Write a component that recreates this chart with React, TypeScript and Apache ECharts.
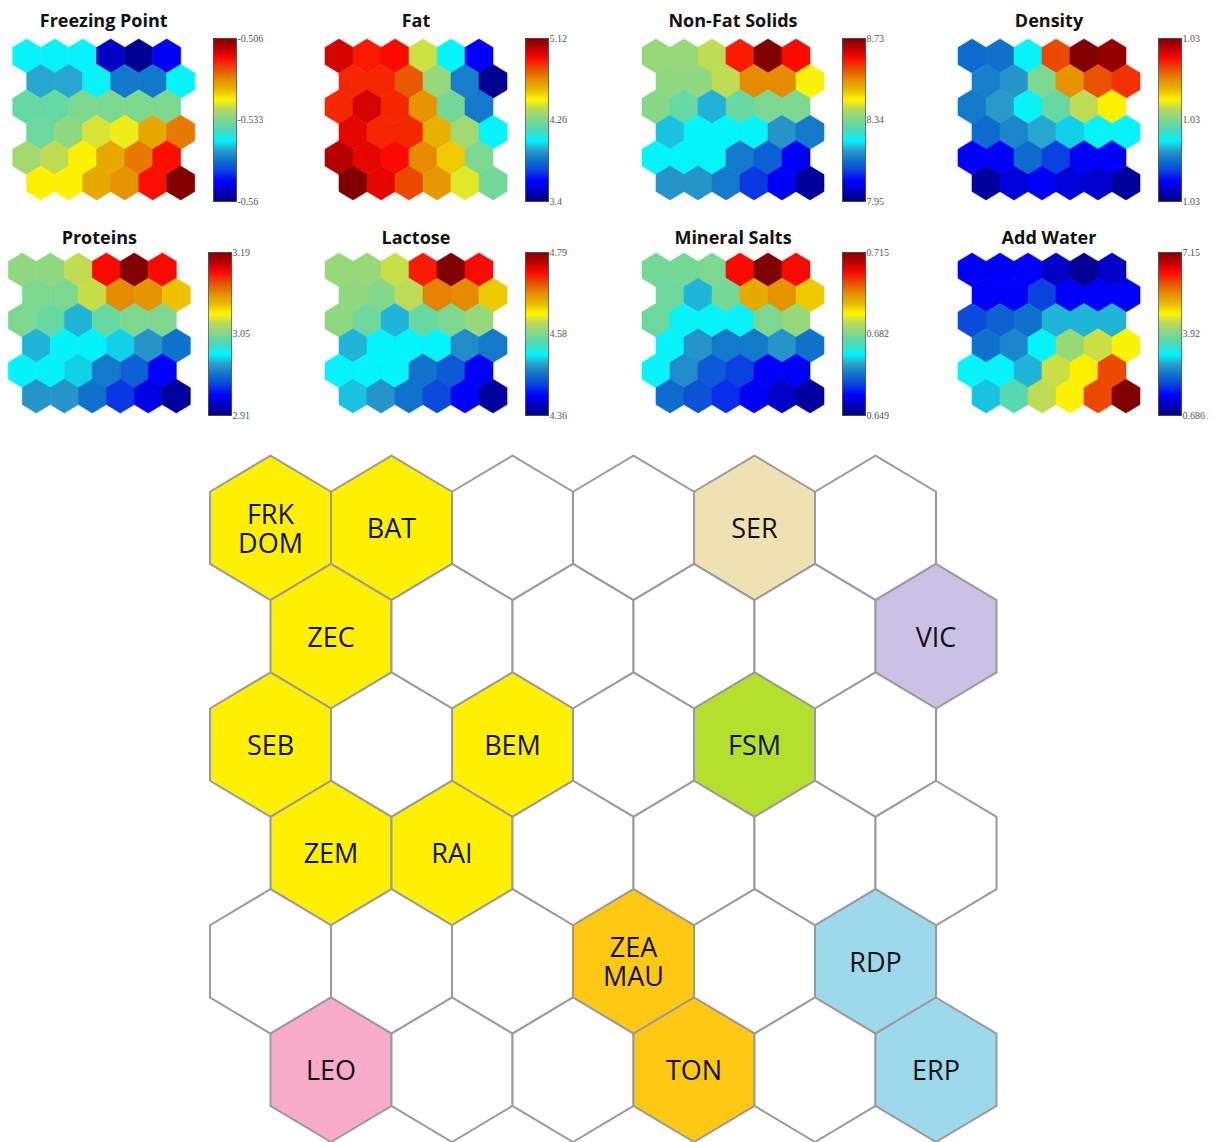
import React, { useEffect, useRef } from 'react';
import * as echarts from 'echarts';

// Component planes of the 6x6 hexagonal SOM, one array per map row (row 0 on top,
// odd rows shifted half a cell to the right).
const freezingPoint = [
  [-0.5395, -0.5395, -0.5395, -0.5562, -0.5589, -0.5535],
  [-0.5427, -0.5427, -0.5395, -0.546, -0.546, -0.5395],
  [-0.5346, -0.5346, -0.533, -0.533, -0.533, -0.533],
  [-0.5341, -0.5319, -0.5281, -0.5271, -0.5217, -0.5184],
  [-0.5308, -0.5292, -0.526, -0.5217, -0.5184, -0.513],
  [-0.526, -0.526, -0.5217, -0.52, -0.513, -0.506],
];
const fat = [
  [4.98, 4.88, 4.91, 4.4, 4.05, 3.61],
  [4.86, 4.86, 4.78, 4.31, 3.86, 3.43],
  [4.86, 4.98, 4.86, 4.67, 4.24, 3.85],
  [4.95, 4.86, 4.86, 4.6, 4.33, 4.05],
  [5.03, 4.95, 4.91, 4.69, 4.55, 4.26],
  [5.12, 4.95, 4.81, 4.66, 4.43, 4.24],
];
const nonFatSolids = [
  [8.363, 8.363, 8.395, 8.621, 8.73, 8.636],
  [8.356, 8.356, 8.395, 8.535, 8.535, 8.434],
  [8.348, 8.317, 8.207, 8.317, 8.34, 8.34],
  [8.215, 8.246, 8.246, 8.246, 8.184, 8.153],
  [8.246, 8.246, 8.246, 8.153, 8.129, 8.044],
  [8.184, 8.184, 8.153, 8.09, 8.044, 7.973],
];
const density = [
  [1.02896, 1.029, 1.02952, 1.03128, 1.032, 1.03192],
  [1.02908, 1.0292, 1.03, 1.03096, 1.03124, 1.03136],
  [1.02904, 1.02924, 1.02952, 1.02988, 1.03028, 1.03052],
  [1.02896, 1.02912, 1.02928, 1.0294, 1.02952, 1.02952],
  [1.02848, 1.02848, 1.02896, 1.02876, 1.02848, 1.02848],
  [1.02812, 1.02836, 1.02848, 1.02836, 1.02832, 1.02812],
];
const proteins = [
  [3.056, 3.056, 3.07, 3.156, 3.19, 3.156],
  [3.05, 3.05, 3.072, 3.12, 3.117, 3.1],
  [3.05, 3.042, 3.002, 3.042, 3.05, 3.05],
  [3.002, 3.016, 3.016, 3.008, 2.994, 2.98],
  [3.016, 3.016, 3.008, 2.983, 2.974, 2.944],
  [2.994, 2.994, 2.98, 2.96, 2.938, 2.918],
];
const lactose = [
  [4.588, 4.588, 4.609, 4.73, 4.79, 4.738],
  [4.584, 4.579, 4.605, 4.687, 4.683, 4.648],
  [4.584, 4.566, 4.502, 4.562, 4.575, 4.588],
  [4.502, 4.523, 4.523, 4.523, 4.485, 4.472],
  [4.523, 4.523, 4.523, 4.468, 4.455, 4.412],
  [4.506, 4.489, 4.468, 4.446, 4.412, 4.373],
];
const mineralSalts = [
  [0.6813, 0.6813, 0.682, 0.7071, 0.715, 0.7071],
  [0.6807, 0.6708, 0.6813, 0.6959, 0.6978, 0.6932],
  [0.6807, 0.6741, 0.6741, 0.6741, 0.682, 0.684],
  [0.6741, 0.6688, 0.6662, 0.6662, 0.6688, 0.6655],
  [0.6741, 0.6681, 0.6635, 0.6615, 0.6569, 0.6569],
  [0.6648, 0.6629, 0.6602, 0.6569, 0.6536, 0.651],
];
const addWater = [
  [1.462, 1.462, 1.462, 1.138, 0.815, 1.138],
  [1.462, 1.462, 1.914, 1.462, 1.462, 1.462],
  [1.979, 2.173, 2.302, 2.819, 2.819, 2.819],
  [2.302, 2.496, 3.142, 4.112, 4.435, 4.694],
  [3.142, 3.142, 2.819, 4.435, 4.758, 5.986],
  [2.884, 3.595, 4.37, 4.758, 5.986, 7.15],
];

const planeTitles = [
  'Freezing Point', 'Fat', 'Non-Fat Solids', 'Density',
  'Proteins', 'Lactose', 'Mineral Salts', 'Add Water',
];
const planeValues = [
  freezingPoint, fat, nonFatSolids, density,
  proteins, lactose, mineralSalts, addWater,
];
// Colour-scale limits [min, max] of each plane
const planeRanges = [
  [-0.56, -0.506], [3.4, 5.12], [7.95, 8.73], [1.028, 1.032],
  [2.91, 3.19], [4.36, 4.79], [0.649, 0.715], [0.686, 7.15],
];
// Colour-bar tick labels, bottom / middle / top
const planeTicks = [
  ['-0.56', '-0.533', '-0.506'], ['3.4', '4.26', '5.12'], ['7.95', '8.34', '8.73'], ['1.03', '1.03', '1.03'],
  ['2.91', '3.05', '3.19'], ['4.36', '4.58', '4.79'], ['0.649', '0.682', '0.715'], ['0.686', '3.92', '7.15'],
];

// Sample codes placed on the nodes of the clustering map ([] = empty node);
// a node holding two samples lists both, one per line.
const nodeLabels: string[][][] = [
  [['FRK', 'DOM'], ['BAT'], [], [], ['SER'], []],
  [['ZEC'], [], [], [], [], ['VIC']],
  [['SEB'], [], ['BEM'], [], ['FSM'], []],
  [['ZEM'], ['RAI'], [], [], [], []],
  [[], [], [], ['ZEA', 'MAU'], [], ['RDP']],
  [['LEO'], [], [], ['TON'], [], ['ERP']],
];

// ---- styling ----
const NODE_FILL: Record<string, string> = {
  FRK: '#FFF000', BAT: '#FFF000', ZEC: '#FFF000', SEB: '#FFF000',
  BEM: '#FFF000', ZEM: '#FFF000', RAI: '#FFF000',
  SER: '#EEE2B2',
  VIC: '#C9C2E5',
  FSM: '#B3E02C',
  ZEA: '#FFC812', TON: '#FFC812',
  RDP: '#9DD9EA', ERP: '#9DD9EA',
  LEO: '#F9ACCA',
};

// jet-like colour scale
const JET = [
  '#00007F', '#0000BF', '#0000FF', '#0A40E0', '#0E72CC', '#2A9CC8', '#00F5FF', '#4CD8B8',
  '#7CD890', '#B4D860', '#FFF500', '#E8B800', '#E68C00', '#E85000', '#FF0A00', '#C00000', '#800000',
];

// panel placement in pixels
const HEX_BOX = [
  [12.7, 39, 182, 161], [325, 39, 182, 161], [642, 39, 182, 161], [958, 39, 182, 161],
  [8.3, 253, 182, 160], [325, 253, 182, 160], [642, 253, 182, 160], [958, 253, 182, 160],
];
const BAR_BOX = [
  [213, 38], [525, 38], [842, 38], [1158, 38],
  [208, 252], [525, 252], [842, 252], [1158, 252],
];
const BAR_W = 23;
const BAR_H = 163;
const TITLE_Y = [20, 20, 20, 20, 237, 237, 237, 237];
const BIG_BOX = [210, 455.6, 786.5, 687.8];
const LABEL_LINE = 29;

function hexPoints(api: any, col: number, row: number) {
  const x = col + (row % 2) * 0.5;
  const c = api.coord([x, row]);
  const n = api.coord([x + 1, row + 1]);
  const hw = (n[0] - c[0]) / 2;
  const rs = Math.abs(n[1] - c[1]);
  const tip = (rs * 2) / 3;
  const side = rs / 3;
  return {
    center: c,
    points: [
      [c[0], c[1] - tip],
      [c[0] + hw, c[1] - side],
      [c[0] + hw, c[1] + side],
      [c[0], c[1] + tip],
      [c[0] - hw, c[1] + side],
      [c[0] - hw, c[1] - side],
    ],
  };
}

function toCells(rows: number[][]) {
  const out: number[][] = [];
  rows.forEach((r, ri) => r.forEach((v, ci) => out.push([ci, ri, v])));
  return out;
}

export default function App() {
  const ref = useRef<HTMLDivElement>(null);

  useEffect(() => {
    if (!ref.current) return;
    const chart = echarts.init(ref.current, null, { renderer: 'svg' });

    const grids: any[] = [];
    const xAxes: any[] = [];
    const yAxes: any[] = [];
    const series: any[] = [];
    const visualMaps: any[] = [];
    const graphics: any[] = [];

    const addGrid = (box: number[]) => {
      const gi = grids.length;
      grids.push({ left: box[0], top: box[1], width: box[2], height: box[3] });
      xAxes.push({ type: 'value', gridIndex: gi, min: -0.5, max: 6, show: false });
      yAxes.push({ type: 'value', gridIndex: gi, min: -2 / 3, max: 5 + 2 / 3, inverse: true, show: false });
      return gi;
    };

    planeValues.forEach((rows, i) => {
      const gi = addGrid(HEX_BOX[i]);
      series.push({
        type: 'custom',
        coordinateSystem: 'cartesian2d',
        xAxisIndex: gi,
        yAxisIndex: gi,
        silent: true,
        encode: { x: 0, y: 1 },
        data: toCells(rows),
        renderItem: (params: any, api: any) => {
          const { points } = hexPoints(api, api.value(0), api.value(1));
          const color = api.visual('color');
          return {
            type: 'polygon',
            shape: { points },
            style: { fill: color, stroke: color, lineWidth: 0.6 },
          };
        },
      });
      const [lo, hi] = planeRanges[i];
      const [bx, by] = BAR_BOX[i];
      visualMaps.push({
        type: 'continuous',
        seriesIndex: i,
        dimension: 2,
        min: lo,
        max: hi,
        inRange: { color: JET },
        calculable: false,
        hoverLink: false,
        orient: 'vertical',
        left: bx,
        top: by,
        itemWidth: BAR_W,
        itemHeight: BAR_H,
        padding: 0,
        borderColor: '#333',
        borderWidth: 1,
      });
      const ticks = planeTicks[i];
      [by + BAR_H, by + BAR_H / 2, by].forEach((ty, k) => {
        graphics.push({
          type: 'text',
          x: bx + BAR_W + 1.5,
          y: ty,
          silent: true,
          style: {
            text: ticks[k],
            fill: '#555',
            font: '10px "Liberation Serif"',
            textAlign: 'left',
            textVerticalAlign: 'middle',
          },
        });
      });
      graphics.push({
        type: 'text',
        x: HEX_BOX[i][0] + HEX_BOX[i][2] / 2,
        y: TITLE_Y[i],
        silent: true,
        style: {
          text: planeTitles[i],
          fill: '#111',
          font: 'bold 18px "Open Sans"',
          textAlign: 'center',
          textVerticalAlign: 'middle',
        },
      });
    });

    // Clustering map
    const nodes: { col: number; row: number; lines: string[] }[] = [];
    nodeLabels.forEach((r, ri) => r.forEach((lines, ci) => nodes.push({ col: ci, row: ri, lines })));
    const bg = addGrid(BIG_BOX);
    series.push({
      type: 'custom',
      coordinateSystem: 'cartesian2d',
      xAxisIndex: bg,
      yAxisIndex: bg,
      silent: true,
      encode: { x: 0, y: 1 },
      data: nodes.map((n) => [n.col, n.row]),
      renderItem: (params: any, api: any) => {
        const node = nodes[params.dataIndex];
        const { points, center } = hexPoints(api, api.value(0), api.value(1));
        const fill = node.lines.length ? NODE_FILL[node.lines[0]] : '#FFFFFF';
        const children: any[] = [
          {
            type: 'polygon',
            shape: { points },
            style: { fill, stroke: '#9A9A9A', lineWidth: 2 },
          },
        ];
        const first = -((node.lines.length - 1) * LABEL_LINE) / 2;
        node.lines.forEach((line, k) => {
          children.push({
            type: 'text',
            x: center[0],
            y: center[1] + first + k * LABEL_LINE,
            style: {
              text: line,
              fill: '#111',
              font: '27px "Open Sans"',
              textAlign: 'center',
              textVerticalAlign: 'middle',
            },
          });
        });
        return { type: 'group', children };
      },
    });

    chart.setOption({
      animation: false,
      backgroundColor: '#FFFFFF',
      grid: grids,
      xAxis: xAxes,
      yAxis: yAxes,
      visualMap: visualMaps,
      series,
      graphic: graphics,
    });

    return () => chart.dispose();
  }, []);

  return (
    <div
      ref={ref}
      style={{ position: 'absolute', left: 0, top: 0, width: 1213, height: 1142 }}
    />
  );
}
